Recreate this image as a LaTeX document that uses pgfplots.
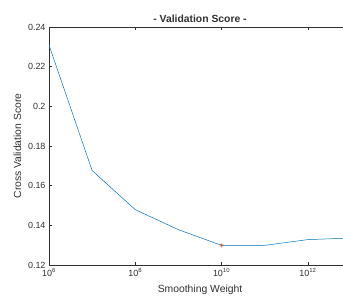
\documentclass[border=0pt]{standalone}
\usepackage{pgfplots}
\pgfplotsset{compat=1.18}
\usepackage{fontspec}
\setmainfont{Liberation Sans}
\definecolor{mblue}{HTML}{0072BD}
\definecolor{morange}{HTML}{D95319}
\definecolor{mgray}{HTML}{303030}
\begin{document}
\begin{tikzpicture}
\path[use as bounding box] (0bp,0bp) rectangle (343bp,298bp);
\clip (0bp,0bp) rectangle (343bp,298bp);
\begin{axis}[
  at={(49bp,33bp)}, anchor=south west, scale only axis,
  width=302bp, height=238bp,
  xmode=log, log basis x=10,
  xmin=1e6, xmax=1e13, ymin=0.12, ymax=0.24,
  xtick={1e6,1e8,1e10,1e12},
  xticklabels={10\textsuperscript{6},10\textsuperscript{8},10\textsuperscript{10},10\textsuperscript{12}},
  ytick={0.12,0.14,0.16,0.18,0.2,0.22,0.24},
  yticklabels={0.12,0.14,0.16,0.18,0.2,0.22,0.24},
  tick align=inside, major tick length=3bp, minor tick length=1.6bp,
  axis line style={mgray, line width=0.5bp},
  tick style={mgray, line width=0.4bp},
  ticklabel style={font=\fontsize{9}{10}\selectfont, text=mgray},
  /pgf/number format/assume math mode=true,
  title={- Validation Score -},
  title style={font=\bfseries\fontsize{10.4}{12}\selectfont, text=mgray, yshift=-5bp},
  xlabel={Smoothing Weight}, ylabel={Cross Validation Score},
  label style={font=\fontsize{10.4}{12}\selectfont, text=mgray},
  xlabel style={yshift=-2bp},
]
\addplot[mblue, line width=0.5bp] coordinates {
  (1e6,0.2309) (1e7,0.1676) (1e8,0.1479) (1e9,0.1378) (1e10,0.1299)
  (1e11,0.1299) (1e12,0.1328) (1e13,0.1336)
};
\addplot[only marks, mark=asterisk, mark size=2bp, morange, line width=0.5bp] coordinates {(1e10,0.1299)};
\end{axis}
\end{tikzpicture}
\end{document}
